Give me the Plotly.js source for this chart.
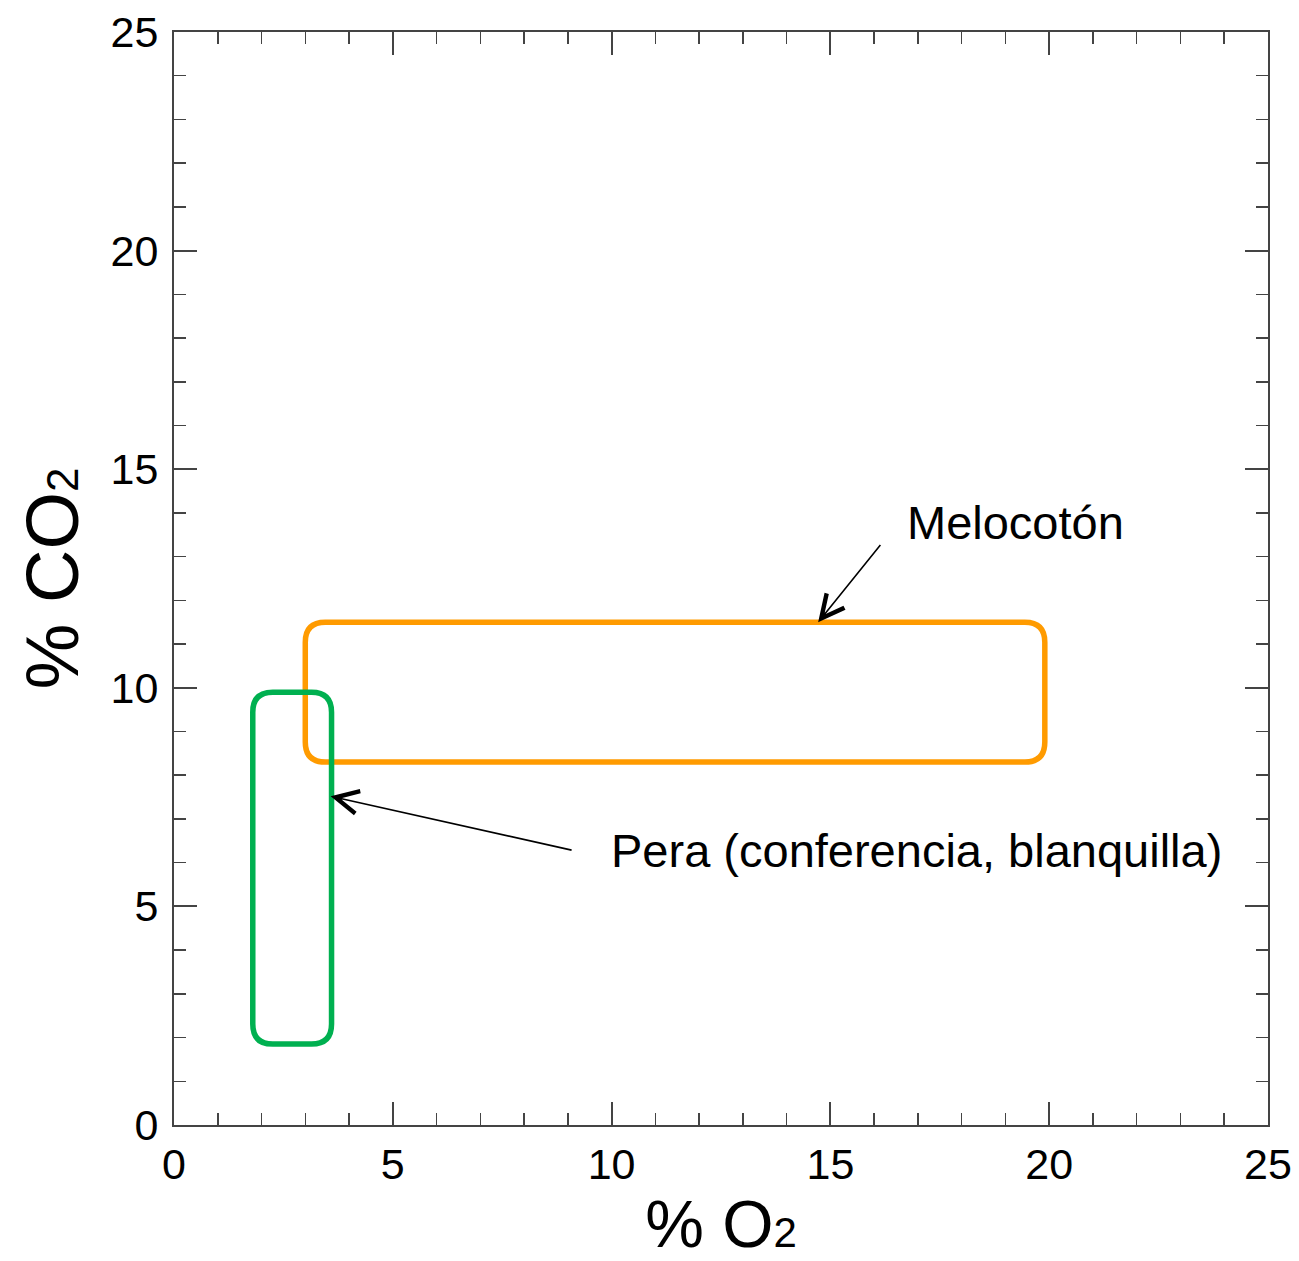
<!DOCTYPE html>
<html>
<head>
<meta charset="utf-8">
<script src="https://cdn.plot.ly/plotly-3.0.1.min.js"></script>
<style>html,body{margin:0;padding:0;background:#fff;}#chart{width:1299px;height:1261px;}</style>
</head>
<body>
<div id="chart"></div>
<script>
// Regions (O2 %, CO2 %)
const regionNames = ["Melocotón", "Pera (conferencia, blanquilla)"];
const regionO2Min = [3.0, 1.8];
const regionO2Max = [19.9, 3.6];
const regionCO2Min = [8.3, 1.85];
const regionCO2Max = [11.5, 9.9];
const regionColors = ["#FF9B00", "#00B050"];

// Label anchor positions and arrows (data units)
const labelX = [16.7, 9.95];
const labelY = [13.77, 6.27];
const arrowHeadX = [14.72, 3.58];
const arrowHeadY = [11.5, 7.52];
const arrowTailX = [16.17, 9.12];
const arrowTailY = [13.30, 6.28];

const xTickVals = [0, 5, 10, 15, 20, 25];
const yTickVals = [0, 5, 10, 15, 20, 25];

const W = 1299, H = 1261;
const margin = {l: 174, r: 31, t: 32, b: 136};
const pxPerX = (W - margin.l - margin.r) / 25;
const pxPerY = (H - margin.t - margin.b) / 25;
const cornerPx = 20;

function roundedPath(x0, x1, y0, y1) {
  const rx = cornerPx / pxPerX, ry = cornerPx / pxPerY;
  return `M${x0 + rx},${y0} L${x1 - rx},${y0} Q${x1},${y0} ${x1},${y0 + ry} ` +
         `L${x1},${y1 - ry} Q${x1},${y1} ${x1 - rx},${y1} ` +
         `L${x0 + rx},${y1} Q${x0},${y1} ${x0},${y1 - ry} ` +
         `L${x0},${y0 + ry} Q${x0},${y0} ${x0 + rx},${y0} Z`;
}

const shapes = regionNames.map((n, i) => ({
  type: 'path', xref: 'x', yref: 'y',
  path: roundedPath(regionO2Min[i], regionO2Max[i], regionCO2Min[i], regionCO2Max[i]),
  line: {color: regionColors[i], width: 5.5},
  fillcolor: 'rgba(0,0,0,0)'
}));

const annotations = [];
regionNames.forEach((n, i) => {
  annotations.push({
    x: labelX[i], y: labelY[i], xref: 'x', yref: 'y', text: n, showarrow: false,
    xanchor: 'left', yanchor: 'middle',
    font: {family: 'Liberation Sans, Arial, sans-serif', size: 47, color: '#000'}
  });
  annotations.push({
    x: arrowHeadX[i], y: arrowHeadY[i], ax: arrowTailX[i], ay: arrowTailY[i],
    xref: 'x', yref: 'y', axref: 'x', ayref: 'y', text: '', showarrow: true,
    arrowhead: 5, arrowsize: 2.8, arrowwidth: 1.6, arrowcolor: '#000', standoff: 0
  });
});

const axisCommon = {
  range: [0, 25], showgrid: false, zeroline: false, showline: true,
  linecolor: '#444', linewidth: 2, mirror: 'allticks',
  ticks: 'inside', ticklen: 23, tickwidth: 2, tickcolor: '#444',
  minor: {dtick: 1, ticks: 'inside', ticklen: 12, tickwidth: 1.5, tickcolor: '#444'},
  tickfont: {family: 'Liberation Sans, Arial, sans-serif', size: 43, color: '#000'},
  fixedrange: true
};

const layout = {
  width: W, height: H, margin: margin,
  paper_bgcolor: '#fff', plot_bgcolor: '#fff', showlegend: false,
  xaxis: Object.assign({}, axisCommon, {
    tickvals: xTickVals, ticktext: xTickVals.map(String), ticklabelstandoff: 0,
    title: {text: '% O<span style="font-size:42px">2</span>', standoff: 26,
            font: {family: 'Liberation Sans, Arial, sans-serif', size: 66, color: '#000'}}
  }),
  yaxis: Object.assign({}, axisCommon, {
    tickvals: yTickVals, ticktext: yTickVals.map(String), ticklabelstandoff: 5,
    title: {text: '% CO<span style="font-size:44px">2</span>', standoff: 8,
            font: {family: 'Liberation Sans, Arial, sans-serif', size: 74, color: '#000'}}
  }),
  shapes: shapes, annotations: annotations
};

Plotly.newPlot('chart', [{x: [], y: [], type: 'scatter', mode: 'lines', hoverinfo: 'skip'}], layout, {staticPlot: true});
</script>
</body>
</html>
